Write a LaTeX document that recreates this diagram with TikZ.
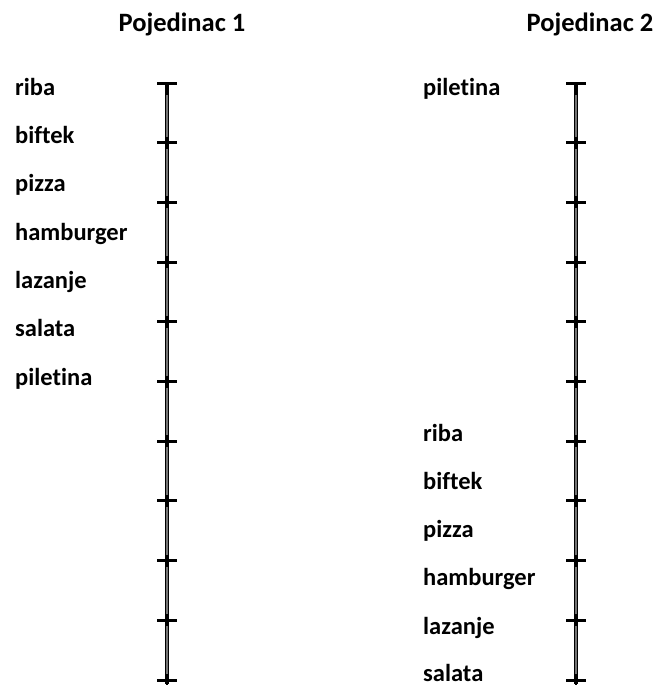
\documentclass[tikz,border=0pt]{standalone}
\usepackage{fontspec}
\setmainfont{Carlito}[Ligatures=NoCommon]

\begin{document}
\begin{tikzpicture}[x=1pt,y=-1pt,
  lbl/.style={anchor=base west,inner sep=0pt,font=\fontsize{24.5}{29}\selectfont\bfseries},
  ttl/.style={anchor=base,inner sep=0pt,font=\fontsize{26.5}{32}\selectfont\bfseries},
  ruler/.style={line width=0.9pt,double=black!55,double distance=1.4pt},
  tickbar/.style={line width=3pt}]
 \useasboundingbox (0,0) rectangle (656,685);
 % titles
 \node[ttl] (t1) at (182,32) {Pojedinac 1};
 \node[ttl] (t2) at (590,32) {Pojedinac 2};
 % rulers
 \draw[ruler] (167,83) -- (167,684);
 \draw[ruler] (576,83) -- (576,684);
 \foreach \x in {167,576} {
  \draw[tickbar] (\x-10,83) -- (\x+10,83);
  \draw[line width=2.5pt] (\x,83) -- (\x,95);
  \foreach \i in {1,...,10} {
   \draw[tickbar] (\x-10,{83+59.7*\i}) -- (\x+10,{83+59.7*\i});
   \draw[line width=2.5pt] (\x,{77+59.7*\i}) -- (\x,{89+59.7*\i});
  }
 }
 % person 1
 \node[lbl] (riba1) at (15,95) {riba};
 \node[lbl] (biftek1) at (15,143.3) {biftek};
 \node[lbl] (pizza1) at (15,191.6) {pizza};
 \node[lbl] (hamburger1) at (15,240) {hamburger};
 \node[lbl] (lazanje1) at (15,288.3) {lazanje};
 \node[lbl] (salata1) at (15,336.6) {salata};
 \node[lbl] (piletina1) at (15,385) {piletina};
 % person 2
 \node[lbl] (piletina2) at (423,95) {piletina};
 \node[lbl] (riba2) at (423,441) {riba};
 \node[lbl] (biftek2) at (423,489) {biftek};
 \node[lbl] (pizza2) at (423,537.3) {pizza};
 \node[lbl] (hamburger2) at (423,585.6) {hamburger};
 \node[lbl] (lazanje2) at (423,634) {lazanje};
 \node[lbl] (salata2) at (423,681) {salata};
\end{tikzpicture}
\end{document}
